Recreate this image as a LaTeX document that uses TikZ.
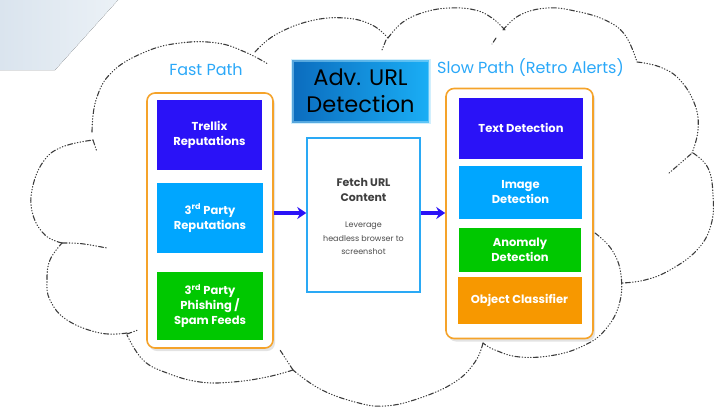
\documentclass[tikz,border=0pt]{standalone}
\usepackage{fontspec}
\setmainfont{Poppins}
\usetikzlibrary{arrows.meta,shadows,calc}

\definecolor{cloudline}{HTML}{3C3C3C}
\definecolor{deepblue}{HTML}{2A12F7}
\definecolor{skyblue}{HTML}{00A6FF}
\definecolor{vivgreen}{HTML}{00C800}
\definecolor{amber}{HTML}{F79800}
\definecolor{frameorange}{HTML}{F5A32A}
\definecolor{labelblue}{HTML}{2BA8F8}
\definecolor{fetchedge}{HTML}{2AA9F5}
\definecolor{advdark}{HTML}{0B6CBE}
\definecolor{advlight}{HTML}{1AAEF5}
\definecolor{corner}{HTML}{DAE4EE}
\definecolor{cornerlight}{HTML}{EBF1F6}

\tikzset{
  cloudstroke/.style={draw=cloudline, line width=1.1pt, line cap=round,
    dash pattern=on 5pt off 2.2pt on 0.6pt off 2.2pt on 0.6pt off 2.2pt on 0.6pt off 2.2pt on 0.6pt off 2.2pt},
  frame/.style={draw=frameorange, line width=1.6pt, fill=white, rounded corners=8pt,
    drop shadow={opacity=0.22, shadow xshift=2pt, shadow yshift=-3pt}},
  tile/.style={draw=none, text=white, font=\bfseries\fontsize{11.5}{15}\selectfont,
    align=center, inner sep=0pt},
  pathlabel/.style={text=labelblue, font=\fontsize{16}{18}\selectfont, inner sep=0pt},
  flow/.style={draw=deepblue, line width=3.4pt, -{Stealth[length=9pt,width=12pt]}},
}

\begin{document}
\begin{tikzpicture}[x=1pt,y=-1pt]
\useasboundingbox (0,0) rectangle (718,410);

% pale corner panel
\fill[left color=corner, right color=cornerlight] (0,0) -- (118,0) -- (55,70) -- (0,70) -- cycle;

% cloud outline, bump by bump
\draw[cloudstroke] plot[smooth,tension=0.7] coordinates {(92,132) (96,100) (112,72) (145,52) (180,43) (217,43) (245,52) (268,64)};
\draw[cloudstroke] plot[smooth,tension=0.7] coordinates {(255,52) (275,35) (310,21) (345,18) (372,25) (388,38)};
\draw[cloudstroke] plot[smooth,tension=0.7] coordinates {(388,38) (403,22) (425,12) (450,8) (475,10) (492,18) (505,30)};
\draw[cloudstroke] plot[smooth,tension=0.7] coordinates {(503,30) (520,15) (547,8) (575,11) (605,20) (625,35) (637,62)};
\draw[cloudstroke] plot[smooth,tension=0.7] coordinates {(637,62) (660,67) (680,80) (695,105) (698,130) (692,153)};
\draw[cloudstroke] plot[smooth,tension=0.7] coordinates {(693,153) (708,168) (713,195) (711,225) (697,250) (670,270) (645,280) (622,283)};
\draw[cloudstroke] plot[smooth,tension=0.7] coordinates {(595,233) (612,250) (621,275) (619,305) (605,330) (585,345) (555,355) (520,357) (495,350) (483,343)};
\draw[cloudstroke] plot[smooth,tension=0.7] coordinates {(483,343) (475,362) (455,382) (420,398) (385,406) (355,402) (320,389) (293,370)};
\draw[cloudstroke] plot[smooth,tension=0.7] coordinates {(293,370) (267,377) (233,382) (200,382) (167,373) (143,360) (127,335)};
\draw[cloudstroke] plot[smooth,tension=0.7] coordinates {(127,333) (100,333) (67,320) (50,300) (47,280) (50,260) (62,243)};
\draw[cloudstroke] plot[smooth,tension=0.7] coordinates {(62,243) (45,235) (33,215) (32,190) (43,162) (62,147) (93,140)};
% inner creases of the cloud
\draw[cloudstroke] (93,140) -- (97,152);
\draw[cloudstroke] (62,243) .. controls (80,243) .. (107,248);
\draw[cloudstroke] (127,334) -- (138,330);
\draw[cloudstroke] (293,370) -- (280,350);
\draw[cloudstroke] (386,40) -- (382,50);
\draw[cloudstroke] (496,38) -- (492,44);
\draw[cloudstroke] (691,154) -- (668,174);

% fast path column
\node[pathlabel] (fastlbl) at (206,70) {Fast Path};
\node[frame, minimum width=126pt, minimum height=255pt] (leftc) at (210,220.5) {};
\node[tile, fill=deepblue, minimum width=105pt, minimum height=70pt] (trellix) at (209.5,135) {Trellix\\Reputations};
\node[tile, fill=skyblue, minimum width=106pt, minimum height=70pt] (thirdrep) at (210,218) {3\textsuperscript{rd} Party\\Reputations};
\node[tile, fill=vivgreen, minimum width=106pt, minimum height=68pt] (feeds) at (210,306) {3\textsuperscript{rd} Party\\Phishing /\\Spam Feeds};

% title banner
\node[draw=advlight!40, line width=3pt, draw opacity=0.5, left color=advdark, right color=advlight,
      minimum width=137pt, minimum height=62pt, align=center, inner sep=0pt,
      font=\fontsize{22.5}{27}\selectfont, text=black] (adv) at (360.5,91) {Adv. URL\\Detection};

% fetch stage
\node[draw=fetchedge, line width=1.5pt, fill=white, minimum width=113pt, minimum height=154pt] (fetch) at (363.5,215) {};
\node[font=\bfseries\fontsize{11}{15}\selectfont, text=black!75, align=center, inner sep=0pt] (fetchttl) at (363.5,189.5) {Fetch URL\\Content};
\node[font=\fontsize{8}{13.5}\selectfont, text=black!70, align=center, inner sep=0pt] (fetchtxt) at (363.5,238.5) {Leverage\\headless browser to\\screenshot};

% slow path column
\node[pathlabel, anchor=west] (slowlbl) at (437,68) {Slow Path (Retro Alerts)};
\node[frame, minimum width=147pt, minimum height=250pt] (rightc) at (519.5,213.5) {};
\node[tile, fill=deepblue, minimum width=124pt, minimum height=61pt] (textdet) at (521,128) {Text Detection};
\node[tile, fill=skyblue, minimum width=123pt, minimum height=53pt] (imgdet) at (520.5,192.5) {Image\\Detection};
\node[tile, fill=vivgreen, minimum width=122pt, minimum height=44pt] (anomaly) at (520,250) {Anomaly\\Detection};
\node[tile, fill=amber, minimum width=124pt, minimum height=47pt] (objcls) at (519.5,300) {Object Classifier};

% flow arrows
\draw[flow] (leftc.east |- 0,213) -- (fetch.west |- 0,213);
\draw[flow] (fetch.east |- 0,213) -- (rightc.west |- 0,213);
\end{tikzpicture}
\end{document}
